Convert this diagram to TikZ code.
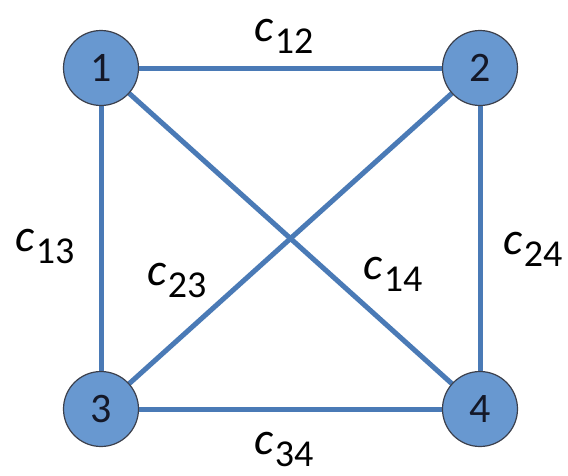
\documentclass[tikz,border=0pt]{standalone}
\usepackage{fontspec}
\setmainfont{Carlito}
\definecolor{edgeblue}{RGB}{74,122,182}
\definecolor{nodeblue}{RGB}{104,152,208}
\definecolor{rimgray}{RGB}{60,64,76}
\definecolor{digitcol}{RGB}{20,24,40}
\newcommand{\costlabel}[1]{{\fontsize{46}{46}\selectfont\itshape c}\kern1pt\raisebox{-12pt}{\fontsize{38}{38}\selectfont #1}}
\tikzset{
  vertex/.style={circle, minimum size=75pt, inner sep=0pt, fill=nodeblue, draw=rimgray, line width=1.2pt,
    font=\fontsize{42}{42}\selectfont, text=digitcol},
  edge/.style={edgeblue, line width=5pt},
  cost/.style={inner sep=0pt, anchor=center}
}
\begin{document}
\begin{tikzpicture}[x=1pt,y=-1pt]
\useasboundingbox (0,0) rectangle (568,475);
\fill[white] (0,0) rectangle (568,475);
\coordinate (p1) at (101,68);
\coordinate (p2) at (480,68);
\coordinate (p3) at (101,409);
\coordinate (p4) at (480,409);
\draw[edge] (p1) -- (p2);
\draw[edge] (p1) -- (p3);
\draw[edge] (p1) -- (p4);
\draw[edge] (p2) -- (p3);
\draw[edge] (p2) -- (p4);
\draw[edge] (p3) -- (p4);
\node[vertex] (n1) at (p1) {1};
\node[vertex] (n2) at (p2) {2};
\node[vertex] (n3) at (p3) {3};
\node[vertex] (n4) at (p4) {4};
\node[cost] (l12) at (284,36) {\costlabel{12}};
\node[cost] (l13) at (45,246) {\costlabel{13}};
\node[cost] (l23) at (177,280) {\costlabel{23}};
\node[cost] (l14) at (393,274) {\costlabel{14}};
\node[cost] (l24) at (533,249) {\costlabel{24}};
\node[cost] (l34) at (284,449) {\costlabel{34}};
\end{tikzpicture}
\end{document}
